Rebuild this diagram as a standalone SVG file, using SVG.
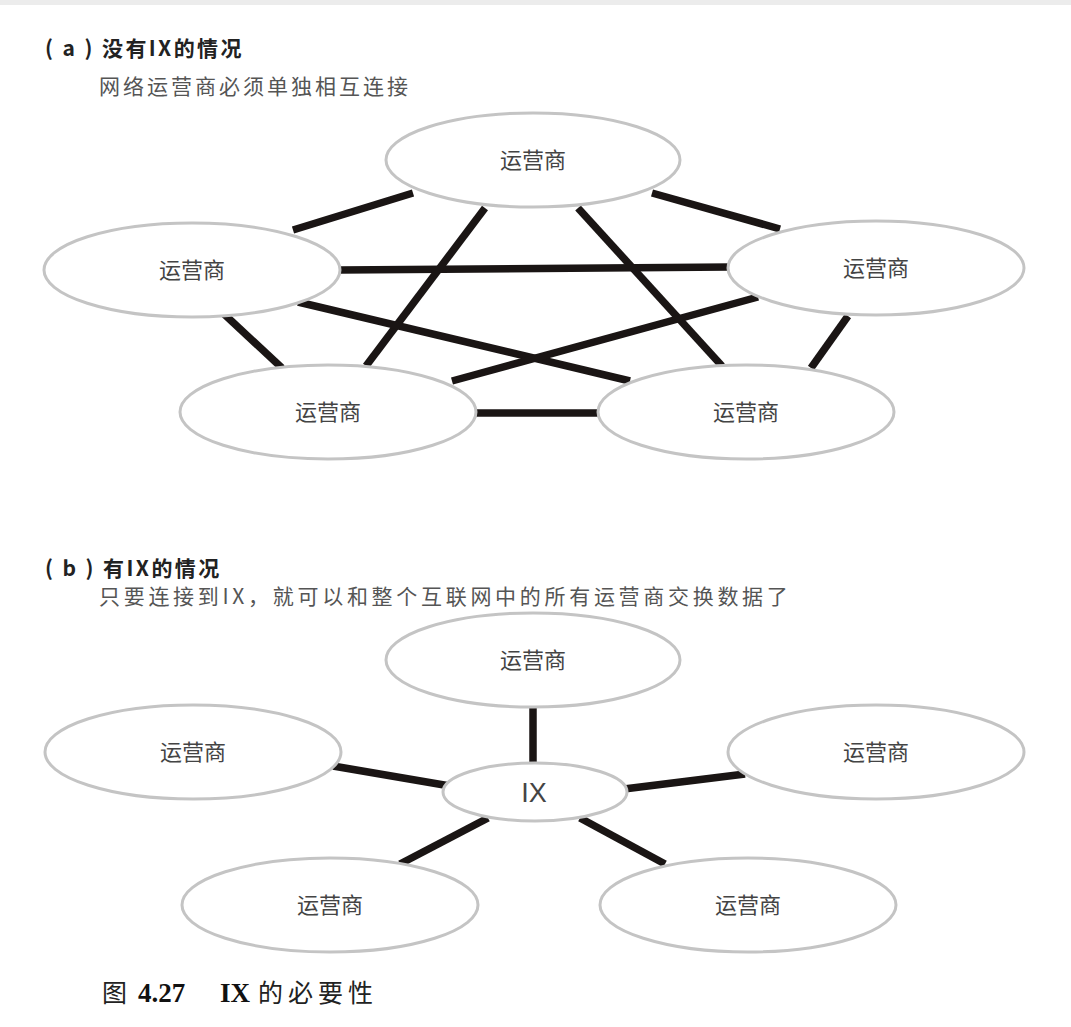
<svg xmlns="http://www.w3.org/2000/svg" width="1071" height="1027" viewBox="0 0 1071 1027">
<style>
.node ellipse{fill:#fff;stroke:#c4c4c4;stroke-width:3}
.lbl{font-family:"Noto Sans CJK SC","Noto Sans",sans-serif;font-size:22px;fill:#444;text-anchor:middle}
.ix{font-family:"Liberation Sans",Arial,sans-serif;font-size:27px;fill:#444;text-anchor:middle}
.conn line{stroke:#1a1514;stroke-width:7.5}
.title{font-family:"Noto Sans CJK SC",sans-serif;font-weight:bold;font-size:21px;fill:#222;letter-spacing:2.4px}
.sub{font-family:"Noto Sans CJK SC",sans-serif;font-size:21px;fill:#555;letter-spacing:3px}
.cap{font-family:"Noto Sans CJK SC",serif;font-size:25px;fill:#222;letter-spacing:5px}
.capb{font-family:"Liberation Serif",serif;font-weight:bold;font-size:27px;fill:#111}
</style>
<rect width="1071" height="1027" fill="#fff"/>
<rect width="1071" height="5" fill="#ececec"/>
<text class="title" x="45" y="56">( a ) 没有IX的情况</text>
<text class="sub" x="99" y="94">网络运营商必须单独相互连接</text>
<text class="title" x="45" y="576">( b ) 有IX的情况</text>
<text class="sub" x="99" y="604" style="letter-spacing:3.7px">只要连接到IX，就可以和整个互联网中的所有运营商交换数据了</text>
<g id="connectors" class="conn">
<line x1="293" y1="230" x2="413" y2="193"/>
<line x1="652" y1="193" x2="780" y2="229"/>
<line x1="340" y1="270" x2="730" y2="267"/>
<line x1="485" y1="208" x2="366" y2="366"/>
<line x1="578" y1="208" x2="722" y2="366"/>
<line x1="298" y1="302" x2="630" y2="381"/>
<line x1="758" y1="297" x2="452" y2="381"/>
<line x1="224" y1="314" x2="282" y2="368"/>
<line x1="848" y1="316" x2="811" y2="368"/>
<line x1="470" y1="413" x2="605" y2="413"/>
<line x1="533" y1="705" x2="533" y2="764"/>
<line x1="333" y1="766" x2="450" y2="786"/>
<line x1="745" y1="774" x2="624" y2="789"/>
<line x1="400" y1="864" x2="488" y2="818"/>
<line x1="665" y1="864" x2="580" y2="818"/>
</g>
<g id="a-top" class="node"><ellipse cx="533" cy="160" rx="147" ry="47"/><text class="lbl" x="533" y="168">运营商</text></g>
<g id="a-left" class="node"><ellipse cx="192" cy="270" rx="148" ry="47"/><text class="lbl" x="192" y="278">运营商</text></g>
<g id="a-right" class="node"><ellipse cx="876" cy="268" rx="148" ry="47"/><text class="lbl" x="876" y="276">运营商</text></g>
<g id="a-bottomleft" class="node"><ellipse cx="328" cy="412" rx="148" ry="47"/><text class="lbl" x="328" y="420">运营商</text></g>
<g id="a-bottomright" class="node"><ellipse cx="746" cy="412" rx="148" ry="47"/><text class="lbl" x="746" y="420">运营商</text></g>
<g id="b-top" class="node"><ellipse cx="533" cy="660" rx="147" ry="47"/><text class="lbl" x="533" y="668">运营商</text></g>
<g id="b-left" class="node"><ellipse cx="193" cy="752" rx="148" ry="47"/><text class="lbl" x="193" y="760">运营商</text></g>
<g id="b-right" class="node"><ellipse cx="876" cy="752" rx="148" ry="47"/><text class="lbl" x="876" y="760">运营商</text></g>
<g id="b-bottomleft" class="node"><ellipse cx="330" cy="905" rx="148" ry="47"/><text class="lbl" x="330" y="913">运营商</text></g>
<g id="b-bottomright" class="node"><ellipse cx="748" cy="905" rx="148" ry="47"/><text class="lbl" x="748" y="913">运营商</text></g>
<g id="b-ix" class="node"><ellipse cx="535" cy="792" rx="92" ry="29"/><text class="ix" x="534" y="802">IX</text></g>
<text x="102" y="1002"><tspan class="cap">图</tspan><tspan class="capb" x="138">4.27</tspan><tspan class="capb" x="220">IX</tspan><tspan class="cap" x="258">的必要性</tspan></text>
</svg>
